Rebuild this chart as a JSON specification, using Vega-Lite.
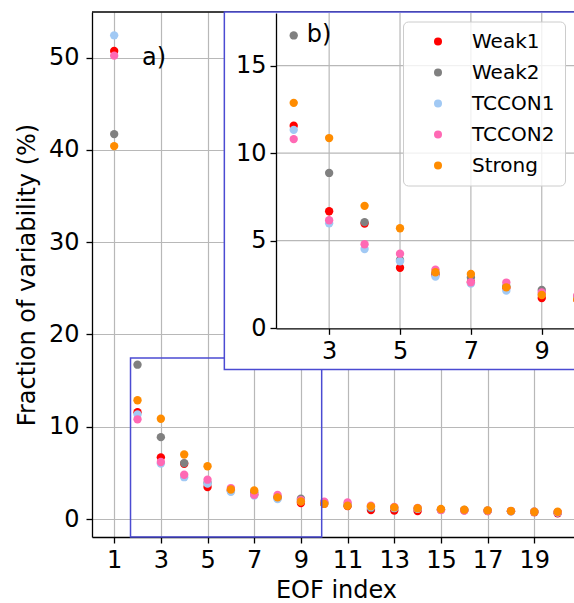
{
  "$schema": "https://vega.github.io/schema/vega-lite/v6.json",
  "width": 482,
  "height": 525,
  "autosize": {"type": "none"},
  "padding": {"left": 92, "top": 12, "right": 0, "bottom": 66},
  "background": "white",
  "config": {
    "view": {"stroke": null},
    "font": "DejaVu Sans",
    "axis": {
      "labelFont": "DejaVu Sans", "titleFont": "DejaVu Sans",
      "labelFontSize": 24, "titleFontSize": 24,
      "labelColor": "black", "titleColor": "black", "titleFontWeight": "normal",
      "domainColor": "black", "tickColor": "black", "domainWidth": 1.3, "tickWidth": 1.3,
      "tickSize": 6, "labelPadding": 6,
      "gridColor": "#b8b8b8", "gridWidth": 1.2, "gridOpacity": 1
    },
    "legend": {
      "orient": "none", "legendX": 311, "legendY": 9.5,
      "labelFont": "DejaVu Sans", "labelFontSize": 20, "labelColor": "black",
      "symbolType": "circle", "symbolSize": 64, "symbolStrokeWidth": 0,
      "fillColor": "rgba(255,255,255,0.8)", "strokeColor": "#cccccc", "cornerRadius": 5,
      "padding": 10, "rowPadding": 11, "labelOffset": 24, "symbolOffset": 15
    }
  },
  "datasets": {
    "eof": [
      {"i": 1, "s": "Weak1", "v": 50.7}, {"i": 1, "s": "Weak2", "v": 41.7}, {"i": 1, "s": "TCCON1", "v": 52.4}, {"i": 1, "s": "TCCON2", "v": 50.2}, {"i": 1, "s": "Strong", "v": 40.4},
      {"i": 2, "s": "Weak1", "v": 11.56}, {"i": 2, "s": "Weak2", "v": 16.72}, {"i": 2, "s": "TCCON1", "v": 11.33}, {"i": 2, "s": "TCCON2", "v": 10.8}, {"i": 2, "s": "Strong", "v": 12.87},
      {"i": 3, "s": "Weak1", "v": 6.68}, {"i": 3, "s": "Weak2", "v": 8.87}, {"i": 3, "s": "TCCON1", "v": 6.0}, {"i": 3, "s": "TCCON2", "v": 6.17}, {"i": 3, "s": "Strong", "v": 10.86},
      {"i": 4, "s": "Weak1", "v": 5.98}, {"i": 4, "s": "Weak2", "v": 6.06}, {"i": 4, "s": "TCCON1", "v": 4.53}, {"i": 4, "s": "TCCON2", "v": 4.8}, {"i": 4, "s": "Strong", "v": 6.99},
      {"i": 5, "s": "Weak1", "v": 3.46}, {"i": 5, "s": "Weak2", "v": 3.9}, {"i": 5, "s": "TCCON1", "v": 3.83}, {"i": 5, "s": "TCCON2", "v": 4.26}, {"i": 5, "s": "Strong", "v": 5.71},
      {"i": 6, "s": "Weak1", "v": 3.05}, {"i": 6, "s": "Weak2", "v": 3.15}, {"i": 6, "s": "TCCON1", "v": 2.95}, {"i": 6, "s": "TCCON2", "v": 3.35}, {"i": 6, "s": "Strong", "v": 3.2},
      {"i": 7, "s": "Weak1", "v": 2.65}, {"i": 7, "s": "Weak2", "v": 2.9}, {"i": 7, "s": "TCCON1", "v": 2.55}, {"i": 7, "s": "TCCON2", "v": 2.63}, {"i": 7, "s": "Strong", "v": 3.1},
      {"i": 8, "s": "Weak1", "v": 2.3}, {"i": 8, "s": "Weak2", "v": 2.4}, {"i": 8, "s": "TCCON1", "v": 2.15}, {"i": 8, "s": "TCCON2", "v": 2.61}, {"i": 8, "s": "Strong", "v": 2.34},
      {"i": 9, "s": "Weak1", "v": 1.73}, {"i": 9, "s": "Weak2", "v": 2.19}, {"i": 9, "s": "TCCON1", "v": 1.95}, {"i": 9, "s": "TCCON2", "v": 2.05}, {"i": 9, "s": "Strong", "v": 1.9},
      {"i": 10, "s": "Weak1", "v": 1.65}, {"i": 10, "s": "Weak2", "v": 1.79}, {"i": 10, "s": "TCCON1", "v": 1.7}, {"i": 10, "s": "TCCON2", "v": 1.88}, {"i": 10, "s": "Strong", "v": 1.64},
      {"i": 11, "s": "Weak1", "v": 1.4}, {"i": 11, "s": "Weak2", "v": 1.5}, {"i": 11, "s": "TCCON1", "v": 1.6}, {"i": 11, "s": "TCCON2", "v": 1.8}, {"i": 11, "s": "Strong", "v": 1.44},
      {"i": 12, "s": "Weak1", "v": 0.98}, {"i": 12, "s": "Weak2", "v": 1.2}, {"i": 12, "s": "TCCON1", "v": 1.3}, {"i": 12, "s": "TCCON2", "v": 1.45}, {"i": 12, "s": "Strong", "v": 1.37},
      {"i": 13, "s": "Weak1", "v": 0.91}, {"i": 13, "s": "Weak2", "v": 1.15}, {"i": 13, "s": "TCCON1", "v": 1.2}, {"i": 13, "s": "TCCON2", "v": 1.3}, {"i": 13, "s": "Strong", "v": 1.26},
      {"i": 14, "s": "Weak1", "v": 0.87}, {"i": 14, "s": "Weak2", "v": 1.1}, {"i": 14, "s": "TCCON1", "v": 1.1}, {"i": 14, "s": "TCCON2", "v": 1.2}, {"i": 14, "s": "Strong", "v": 1.16},
      {"i": 15, "s": "Weak1", "v": 1.0}, {"i": 15, "s": "Weak2", "v": 1.0}, {"i": 15, "s": "TCCON1", "v": 1.0}, {"i": 15, "s": "TCCON2", "v": 0.96}, {"i": 15, "s": "Strong", "v": 1.08},
      {"i": 16, "s": "Weak1", "v": 0.95}, {"i": 16, "s": "Weak2", "v": 0.98}, {"i": 16, "s": "TCCON1", "v": 0.95}, {"i": 16, "s": "TCCON2", "v": 0.92}, {"i": 16, "s": "Strong", "v": 1.01},
      {"i": 17, "s": "Weak1", "v": 0.87}, {"i": 17, "s": "Weak2", "v": 0.9}, {"i": 17, "s": "TCCON1", "v": 0.9}, {"i": 17, "s": "TCCON2", "v": 0.9}, {"i": 17, "s": "Strong", "v": 0.94},
      {"i": 18, "s": "Weak1", "v": 0.85}, {"i": 18, "s": "Weak2", "v": 0.85}, {"i": 18, "s": "TCCON1", "v": 0.82}, {"i": 18, "s": "TCCON2", "v": 0.86}, {"i": 18, "s": "Strong", "v": 0.87},
      {"i": 19, "s": "Weak1", "v": 0.74}, {"i": 19, "s": "Weak2", "v": 0.8}, {"i": 19, "s": "TCCON1", "v": 0.78}, {"i": 19, "s": "TCCON2", "v": 0.8}, {"i": 19, "s": "Strong", "v": 0.79},
      {"i": 20, "s": "Weak1", "v": 0.61}, {"i": 20, "s": "Weak2", "v": 0.72}, {"i": 20, "s": "TCCON1", "v": 0.7}, {"i": 20, "s": "TCCON2", "v": 0.75}, {"i": 20, "s": "Strong", "v": 0.79}
    ]
  },
  "layer": [
    {
      "layer": [
        {
          "data": {"name": "eof"},
          "mark": {"type": "point", "filled": true, "size": 70, "opacity": 1},
          "encoding": {
            "x": {"field": "i", "type": "quantitative",
                  "scale": {"domain": [0.05, 20.7], "nice": false, "zero": false},
                  "axis": {"title": "EOF index", "values": [1, 3, 5, 7, 9, 11, 13, 15, 17, 19], "grid": true, "titlePadding": 6, "titleX": 244, "labelPadding": 5}},
            "y": {"field": "v", "type": "quantitative",
                  "scale": {"domain": [-1.95, 54.93], "nice": false, "zero": false},
                  "axis": {"title": "Fraction of variability (%)", "values": [0, 10, 20, 30, 40, 50], "grid": true, "labelPadding": 7, "titlePadding": 9}},
            "color": {"field": "s", "type": "nominal", "title": null,
                      "scale": {"domain": ["Weak1", "Weak2", "TCCON1", "TCCON2", "Strong"],
                                "range": ["#ff0000", "#808080", "#a1c9f4", "#ff69b4", "#ff8c00"]}}
          }
        },
        {
          "data": {"values": [{}]},
          "mark": {"type": "rule", "color": "black", "strokeWidth": 1.3},
          "encoding": {"y": {"datum": 54.93}}
        },
        {
          "data": {"values": [{}]},
          "mark": {"type": "rect", "fill": null, "fillOpacity": 0, "stroke": "#4b4bd2", "strokeWidth": 1.5},
          "encoding": {"x": {"datum": 1.7}, "x2": {"datum": 9.89}, "y": {"datum": -1.95}, "y2": {"datum": 17.44}}
        },
        {
          "data": {"values": [{}]},
          "mark": {"type": "rect", "fill": "white", "stroke": "#4b4bd2", "strokeWidth": 1.5},
          "encoding": {"x": {"datum": 5.72}, "x2": {"datum": 22}, "y": {"datum": 16.2}, "y2": {"datum": 54.93}}
        },
        {
          "data": {"values": [{}]},
          "mark": {"type": "text", "text": "a)", "fontSize": 24, "align": "left", "baseline": "middle", "font": "DejaVu Sans", "color": "black"},
          "encoding": {"x": {"datum": 2.19}, "y": {"datum": 49.9}}
        }
      ]
    },
    {
      "layer": [
        {"data": {"values": [{}]}, "mark": {"type": "rule", "color": "#b8b8b8", "strokeWidth": 1.2}, "encoding": {"x": {"datum": 3}, "y": {"datum": 0}, "y2": {"datum": 18}}},
        {"data": {"values": [{}]}, "mark": {"type": "rule", "color": "#b8b8b8", "strokeWidth": 1.2}, "encoding": {"x": {"datum": 5}, "y": {"datum": 0}, "y2": {"datum": 18}}},
        {"data": {"values": [{}]}, "mark": {"type": "rule", "color": "#b8b8b8", "strokeWidth": 1.2}, "encoding": {"x": {"datum": 7}, "y": {"datum": 0}, "y2": {"datum": 18}}},
        {"data": {"values": [{}]}, "mark": {"type": "rule", "color": "#b8b8b8", "strokeWidth": 1.2}, "encoding": {"x": {"datum": 9}, "y": {"datum": 0}, "y2": {"datum": 18}}},
        {"data": {"values": [{}]}, "mark": {"type": "rule", "color": "#b8b8b8", "strokeWidth": 1.2}, "encoding": {"y": {"datum": 5}, "x": {"datum": 1.5}, "x2": {"datum": 10.6}}},
        {"data": {"values": [{}]}, "mark": {"type": "rule", "color": "#b8b8b8", "strokeWidth": 1.2}, "encoding": {"y": {"datum": 10}, "x": {"datum": 1.5}, "x2": {"datum": 10.6}}},
        {"data": {"values": [{}]}, "mark": {"type": "rule", "color": "#b8b8b8", "strokeWidth": 1.2}, "encoding": {"y": {"datum": 15}, "x": {"datum": 1.5}, "x2": {"datum": 10.6}}},
        {
          "data": {"name": "eof"},
          "transform": [{"filter": "datum.i >= 2 && datum.i <= 10"}],
          "mark": {"type": "point", "filled": true, "size": 70, "opacity": 1},
          "encoding": {
            "x": {"field": "i", "type": "quantitative",
                  "scale": {"domain": [1.5, 9.91], "range": [184, 482], "nice": false, "zero": false},
                  "axis": {"orient": "bottom", "offset": -208.7, "values": [3, 5, 7, 9], "format": "d", "grid": false, "title": null, "labelPadding": 5, "zindex": 1}},
            "y": {"field": "v", "type": "quantitative",
                  "scale": {"domain": [0, 18], "range": [316.3, 1], "nice": false, "zero": false},
                  "axis": {"orient": "left", "offset": -184, "values": [0, 5, 10, 15], "format": "d", "grid": false, "title": null, "labelPadding": 4, "zindex": 1}},
            "color": {"field": "s", "type": "nominal", "title": null}
          }
        },
        {
          "data": {"values": [{}]},
          "mark": {"type": "text", "text": "b)", "fontSize": 24, "align": "left", "baseline": "middle", "font": "DejaVu Sans", "color": "black"},
          "encoding": {"x": {"datum": 2.37}, "y": {"datum": 16.72}}
        }
      ]
    }
  ],
  "resolve": {"scale": {"x": "independent", "y": "independent"}, "axis": {"x": "independent", "y": "independent"}}
}
